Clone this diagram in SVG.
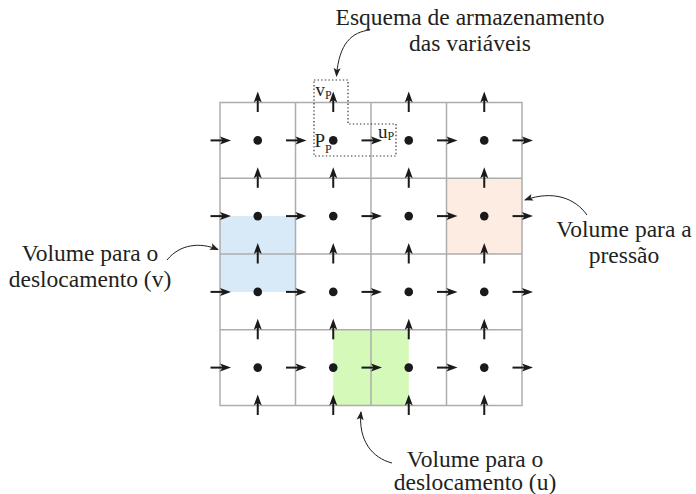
<svg xmlns="http://www.w3.org/2000/svg" xmlns:xlink="http://www.w3.org/1999/xlink" width="696" height="494" viewBox="0 0 696 494">
<style>
.grid{stroke:#adadad;stroke-width:1.5;fill:none}
.lbl{font-family:"Liberation Serif","Times New Roman",serif;fill:#231f20}
.dot{fill:#1a1a1a}
.con{fill:none;stroke:#231f20;stroke-width:1}
.box{fill:none;stroke:#333;stroke-width:1.2;stroke-dasharray:1.4 2.2}
</style>
<defs>
<g id="ah">
<line x1="-9.5" y1="0" x2="3" y2="0" stroke="#1a1a1a" stroke-width="2"/>
<path d="M11,0 L0,-4 L2.5,0 L0,4 Z" fill="#1a1a1a"/>
</g>
<g id="av">
<line x1="0" y1="9.5" x2="0" y2="-3" stroke="#1a1a1a" stroke-width="2"/>
<path d="M0,-11 L-4,0 L0,-2.5 L4,0 Z" fill="#1a1a1a"/>
</g>
<marker id="m" markerWidth="10" markerHeight="8" refX="8" refY="4" orient="auto" markerUnits="userSpaceOnUse">
<path d="M0,0.5 L9,4 L0,7.5 L2,4 Z" fill="#231f20"/>
</marker>
</defs>

<g id="cells">
<rect id="vol-v" x="220" y="216.1" width="75.5" height="75.8" fill="#d8e9f7"/>
<rect id="vol-p" x="446.5" y="178.3" width="75.5" height="75.7" fill="#fdece2"/>
<rect id="vol-u" x="333.25" y="329.8" width="75.5" height="75.7" fill="#d5f9b8"/>
</g>

<g id="grid" class="grid">
<rect x="220" y="102.5" width="302" height="303"/>
<line x1="295.5" y1="102.5" x2="295.5" y2="405.5"/>
<line x1="371" y1="102.5" x2="371" y2="405.5"/>
<line x1="446.5" y1="102.5" x2="446.5" y2="405.5"/>
<line x1="220" y1="178.3" x2="522" y2="178.3"/>
<line x1="220" y1="254" x2="522" y2="254"/>
<line x1="220" y1="329.8" x2="522" y2="329.8"/>
</g>

<g id="pressure-points" class="dot">
<circle cx="257.75" cy="140.4" r="4.3"/><circle cx="333.25" cy="140.4" r="4.3"/><circle cx="408.75" cy="140.4" r="4.3"/><circle cx="484.25" cy="140.4" r="4.3"/>
<circle cx="257.75" cy="216.1" r="4.3"/><circle cx="333.25" cy="216.1" r="4.3"/><circle cx="408.75" cy="216.1" r="4.3"/><circle cx="484.25" cy="216.1" r="4.3"/>
<circle cx="257.75" cy="291.9" r="4.3"/><circle cx="333.25" cy="291.9" r="4.3"/><circle cx="408.75" cy="291.9" r="4.3"/><circle cx="484.25" cy="291.9" r="4.3"/>
<circle cx="257.75" cy="367.6" r="4.3"/><circle cx="333.25" cy="367.6" r="4.3"/><circle cx="408.75" cy="367.6" r="4.3"/><circle cx="484.25" cy="367.6" r="4.3"/>
</g>

<g id="u-velocities">
<use xlink:href="#ah" x="220" y="140.4"/><use xlink:href="#ah" x="295.5" y="140.4"/><use xlink:href="#ah" x="371" y="140.4"/><use xlink:href="#ah" x="446.5" y="140.4"/><use xlink:href="#ah" x="522" y="140.4"/>
<use xlink:href="#ah" x="220" y="216.1"/><use xlink:href="#ah" x="295.5" y="216.1"/><use xlink:href="#ah" x="371" y="216.1"/><use xlink:href="#ah" x="446.5" y="216.1"/><use xlink:href="#ah" x="522" y="216.1"/>
<use xlink:href="#ah" x="220" y="291.9"/><use xlink:href="#ah" x="295.5" y="291.9"/><use xlink:href="#ah" x="371" y="291.9"/><use xlink:href="#ah" x="446.5" y="291.9"/><use xlink:href="#ah" x="522" y="291.9"/>
<use xlink:href="#ah" x="220" y="367.6"/><use xlink:href="#ah" x="295.5" y="367.6"/><use xlink:href="#ah" x="371" y="367.6"/><use xlink:href="#ah" x="446.5" y="367.6"/><use xlink:href="#ah" x="522" y="367.6"/>
</g>

<g id="v-velocities">
<use xlink:href="#av" x="257.75" y="102.5"/><use xlink:href="#av" x="333.25" y="102.5"/><use xlink:href="#av" x="408.75" y="102.5"/><use xlink:href="#av" x="484.25" y="102.5"/>
<use xlink:href="#av" x="257.75" y="178.3"/><use xlink:href="#av" x="333.25" y="178.3"/><use xlink:href="#av" x="408.75" y="178.3"/><use xlink:href="#av" x="484.25" y="178.3"/>
<use xlink:href="#av" x="257.75" y="254"/><use xlink:href="#av" x="333.25" y="254"/><use xlink:href="#av" x="408.75" y="254"/><use xlink:href="#av" x="484.25" y="254"/>
<use xlink:href="#av" x="257.75" y="329.8"/><use xlink:href="#av" x="333.25" y="329.8"/><use xlink:href="#av" x="408.75" y="329.8"/><use xlink:href="#av" x="484.25" y="329.8"/>
<use xlink:href="#av" x="257.75" y="405.5"/><use xlink:href="#av" x="333.25" y="405.5"/><use xlink:href="#av" x="408.75" y="405.5"/><use xlink:href="#av" x="484.25" y="405.5"/>
</g>

<g id="storage-scheme">
<polygon class="box" points="314,80 348,80 348,124 396,124 396,156 314,156"/>
<text class="lbl" x="315.5" y="96" font-size="19">v<tspan font-size="12" dy="3">P</tspan></text>
<text class="lbl" x="314.5" y="146.5" font-size="19">P<tspan font-size="12" dy="6">P</tspan></text>
<text class="lbl" x="378" y="137.5" font-size="19">u<tspan font-size="12" dy="2">P</tspan></text>
</g>

<g id="label-storage">
<text class="lbl" x="470" y="25" font-size="23.5" text-anchor="middle">Esquema de armazenamento</text>
<text class="lbl" x="470" y="51" font-size="23.5" text-anchor="middle">das variáveis</text>
</g>
<g id="label-v">
<text class="lbl" x="90" y="260.5" font-size="23.5" text-anchor="middle">Volume para o</text>
<text class="lbl" x="90" y="286.5" font-size="23.5" text-anchor="middle">deslocamento (v)</text>
</g>
<g id="label-p">
<text class="lbl" x="624" y="237" font-size="23.5" text-anchor="middle">Volume para a</text>
<text class="lbl" x="624" y="263" font-size="23.5" text-anchor="middle">pressão</text>
</g>
<g id="label-u">
<text class="lbl" x="475" y="466.5" font-size="23.5" text-anchor="middle">Volume para o</text>
<text class="lbl" x="475" y="490" font-size="23.5" text-anchor="middle">deslocamento (u)</text>
</g>

<g id="connectors">
<path class="con" d="M370,30 C352,32 339,43 336.5,76" marker-end="url(#m)"/>
<path class="con" d="M167,260 C180,244 200,242 218,249.5" marker-end="url(#m)"/>
<path class="con" d="M587,215 C575,198 553,190 525,200" marker-end="url(#m)"/>
<path class="con" d="M392,463 C372,458 358,440 361,412" marker-end="url(#m)"/>
</g>
</svg>
